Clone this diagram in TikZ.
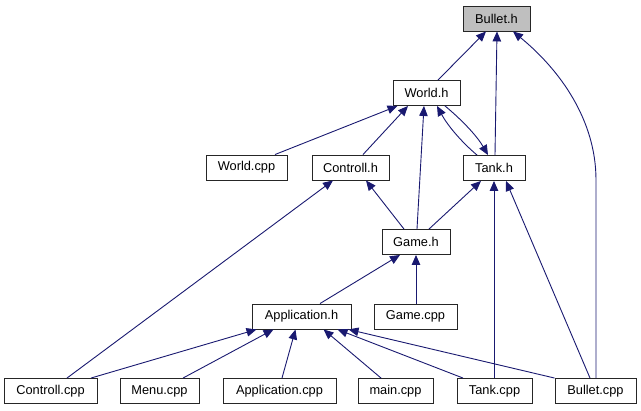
\documentclass[tikz,border=0pt]{standalone}
\usepackage{fontspec}
\setmainfont{Liberation Sans}
\usetikzlibrary{arrows.meta}
\definecolor{edgeblue}{RGB}{25,25,112}
\definecolor{selgray}{RGB}{191,191,191}
\tikzset{
  box/.style={draw=black!85, line width=0.9pt, fill=white, inner sep=0pt, minimum height=25pt,
    font=\fontsize{12.8}{14}\selectfont},
  sel/.style={box, fill=selgray},
  edge/.style={draw=edgeblue, line width=0.9pt, -{Triangle[length=10pt,width=8.5pt]}}
}
\begin{document}
\begin{tikzpicture}[x=1pt,y=-1pt]
\useasboundingbox (0,0) rectangle (641,411);
% nodes
\node[sel, minimum width=67pt] (bh) at (496.5,18.5) {Bullet.h};
\node[box, minimum width=67pt] (wh) at (426.5,93) {World.h};
\node[box, minimum width=62pt] (th) at (494,168) {Tank.h};
\node[box, minimum width=81pt] (wcpp) at (246.5,167.5) {World.cpp};
\node[box, minimum width=77pt] (ch) at (350.5,167.5) {Controll.h};
\node[box, minimum width=68pt] (gh) at (416,242) {Game.h};
\node[box, minimum width=99pt] (ah) at (301.5,316.5) {Application.h};
\node[box, minimum width=83pt] (gcpp) at (415.5,316.5) {Game.cpp};
\node[box, minimum width=93pt] (ccpp) at (50.5,391) {Controll.cpp};
\node[box, minimum width=79pt] (mcpp) at (159.5,391) {Menu.cpp};
\node[box, minimum width=113pt] (acpp) at (279.5,391) {Application.cpp};
\node[box, minimum width=75pt] (maincpp) at (395.5,391) {main.cpp};
\node[box, minimum width=75pt] (tcpp) at (494.5,391) {Tank.cpp};
\node[box, minimum width=81pt] (bcpp) at (595.5,391) {Bullet.cpp};
% edges to Bullet.h
\draw[edge] ([xshift=11.5pt]wh.north) -- ([xshift=-10.5pt]bh.south);
\draw[edge] ([xshift=1pt]th.north) -- ([xshift=0.5pt]bh.south);
\draw[edge] ([xshift=0.5pt]bcpp.north) -- (596,180) .. controls (596,120) and (560,70) .. ([xshift=16.5pt]bh.south);
% edges to World.h
\draw[edge] ([xshift=28.5pt]wcpp.north) -- ([xshift=-29pt]wh.south);
\draw[edge] ([xshift=12.5pt]ch.north) -- ([xshift=-18.5pt]wh.south);
\draw[edge] ([xshift=1pt]gh.north) -- ([xshift=-2.5pt]wh.south);
\draw[edge] ([xshift=-17pt]th.north) .. controls (460.7,141.3) and (447.3,124.9) .. ([xshift=10.5pt]wh.south);
\draw[edge] ([xshift=18.5pt]wh.south) .. controls (462,120) and (477,136) .. ([xshift=-6pt]th.north);
% edges to Controll.h
\draw[edge] ([xshift=-12pt]gh.north) -- ([xshift=15.5pt]ch.south);
\draw[edge] ([xshift=16.5pt]ccpp.north) -- ([xshift=-17.5pt]ch.south);
% edges to Tank.h
\draw[edge] ([xshift=13pt]gh.north) -- ([xshift=-13pt]th.south);
\draw[edge] ([xshift=-0.5pt]tcpp.north) -- (th.south);
\draw[edge] ([xshift=-5.5pt]bcpp.north) -- ([xshift=12pt]th.south);
% edges to Game.h
\draw[edge] ([xshift=18.5pt]ah.north) -- ([xshift=-16pt]gh.south);
\draw[edge] ([xshift=0.5pt]gcpp.north) -- (gh.south);
% edges to Application.h
\draw[edge] ([xshift=40.5pt]ccpp.north) -- ([xshift=-45pt]ah.south);
\draw[edge] ([xshift=23.5pt]mcpp.north) -- ([xshift=-28pt]ah.south);
\draw[edge] ([xshift=2.5pt]acpp.north) -- ([xshift=-6pt]ah.south);
\draw[edge] ([xshift=-14.5pt]maincpp.north) -- ([xshift=22pt]ah.south);
\draw[edge] ([xshift=-31.5pt]tcpp.north) -- ([xshift=36pt]ah.south);
\draw[edge] (bcpp.north west) -- ([xshift=47pt]ah.south);
\end{tikzpicture}
\end{document}
